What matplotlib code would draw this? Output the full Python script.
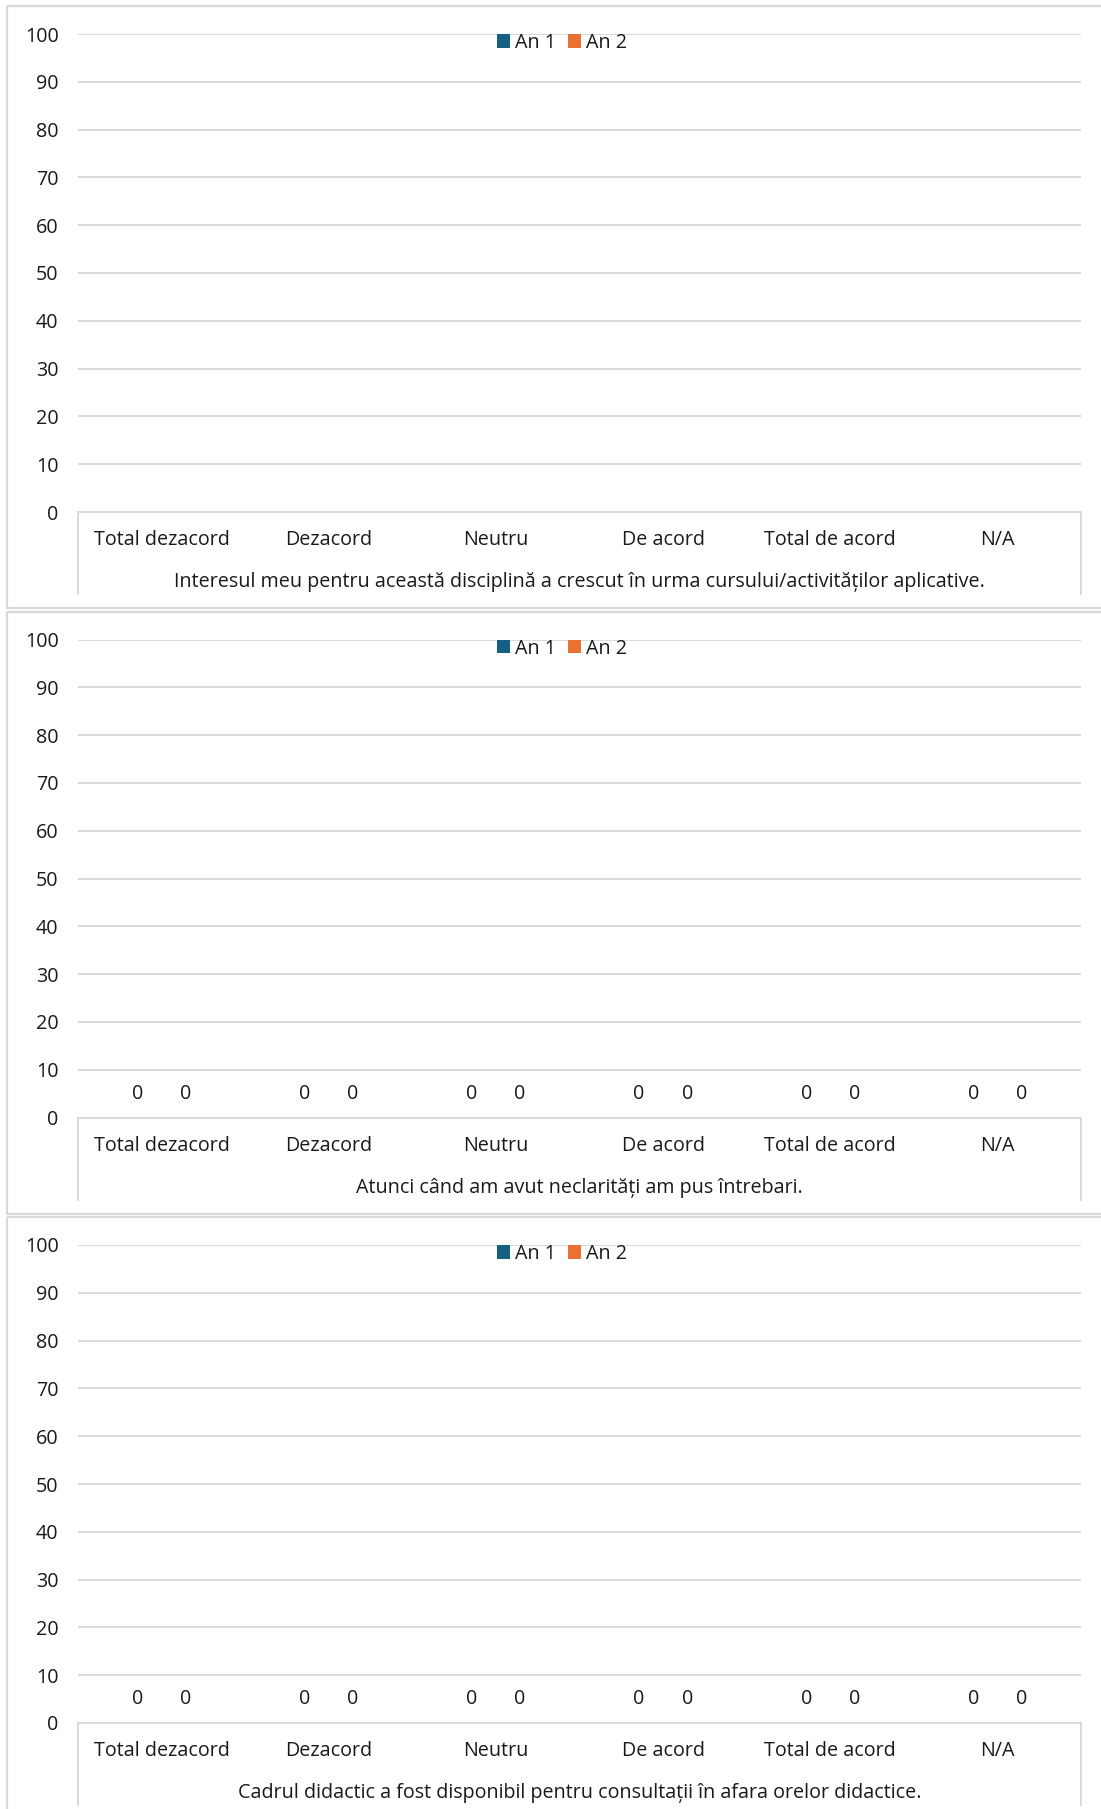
import numpy as np
import matplotlib
matplotlib.use("Agg")
import matplotlib.pyplot as plt
from matplotlib.transforms import Affine2D
from matplotlib.lines import Line2D
from matplotlib.patches import Rectangle

plt.rcParams['font.family'] = ['Open Sans', 'DejaVu Sans']

# data
categories = ["Total dezacord", "Dezacord", "Neutru", "De acord", "Total de acord", "N/A"]
series = ["An 1", "An 2"]
colors = ["#156082", "#E97132"]
questions = [
    "Interesul meu pentru această disciplină a crescut în urma cursului/activităților aplicative.",
    "Atunci când am avut neclarități am pus întrebari.",
    "Cadrul didactic a fost disponibil pentru consultații în afara orelor didactice.",
]
# panel 1 has no answers, panels 2 and 3 are all zero
an1 = [
    [np.nan] * 6,
    [0, 0, 0, 0, 0, 0],
    [0, 0, 0, 0, 0, 0],
]
an2 = [
    [np.nan] * 6,
    [0, 0, 0, 0, 0, 0],
    [0, 0, 0, 0, 0, 0],
]
yticks = list(range(0, 101, 10))

W, H = 1101, 1809
fig = plt.figure(figsize=(W / 100, H / 100), dpi=100)
# pixel coords from top-left corner
px = Affine2D().scale(1 / W, -1 / H).translate(0, 1) + fig.transFigure

grey = "#D9D9D9"
txt = "#1a1a1a"
fs = 14.2
step = 605.5
x0, x1 = 78, 1081

for i, q in enumerate(questions):
    off = i * step
    # panel border
    fig.patches.append(Rectangle((7, 6 + off), 1120, 602, transform=px,
                                 fill=False, edgecolor=grey, linewidth=1.6))

    ytop, ybot = 34 + off, 512 + off
    ax = fig.add_axes([x0 / W, 1 - ybot / H, (x1 - x0) / W, (ybot - ytop) / H])
    ax.set_xlim(-0.5, 5.5)
    ax.set_ylim(0, 100)
    ax.set_yticks(yticks)
    ax.set_yticklabels([str(v) for v in yticks], fontsize=fs, color=txt)
    ax.yaxis.grid(True, color=grey, linewidth=1.4)
    ax.set_axisbelow(True)
    ax.tick_params(axis='y', length=0, pad=14)
    for s in ["top", "left", "right"]:
        ax.spines[s].set_visible(False)
    ax.spines["bottom"].set_color(grey)
    ax.spines["bottom"].set_linewidth(1.4)

    x = np.arange(len(categories))
    b1 = ax.bar(x - 0.144, an1[i], width=0.28, color=colors[0], label=series[0])
    b2 = ax.bar(x + 0.144, an2[i], width=0.28, color=colors[1], label=series[1])
    if not np.all(np.isnan(an1[i])):
        ax.bar_label(b1, fmt="%g", padding=10, fontsize=fs, color=txt)
        ax.bar_label(b2, fmt="%g", padding=10, fontsize=fs, color=txt)

    ax.set_xticks(x)
    ax.set_xticklabels(categories, fontsize=fs, color=txt)
    ax.tick_params(axis='x', length=0, pad=13)

    # multi-level category box
    for xv in (x0, x1):
        fig.lines.append(Line2D([xv, xv], [ybot, 594 + off], transform=px,
                                color=grey, linewidth=1.4))
    fig.text(579.5, 582 + off, q, transform=px, ha="center", va="center",
             fontsize=fs, color=txt)

    ax.legend(loc="center", bbox_to_anchor=(562, 43 + off), bbox_transform=px,
              ncol=2, frameon=False, fontsize=fs, handlelength=0.65,
              handleheight=0.65, handletextpad=0.25, columnspacing=0.6,
              labelcolor=txt)

fig.savefig("out.png", dpi=100)
